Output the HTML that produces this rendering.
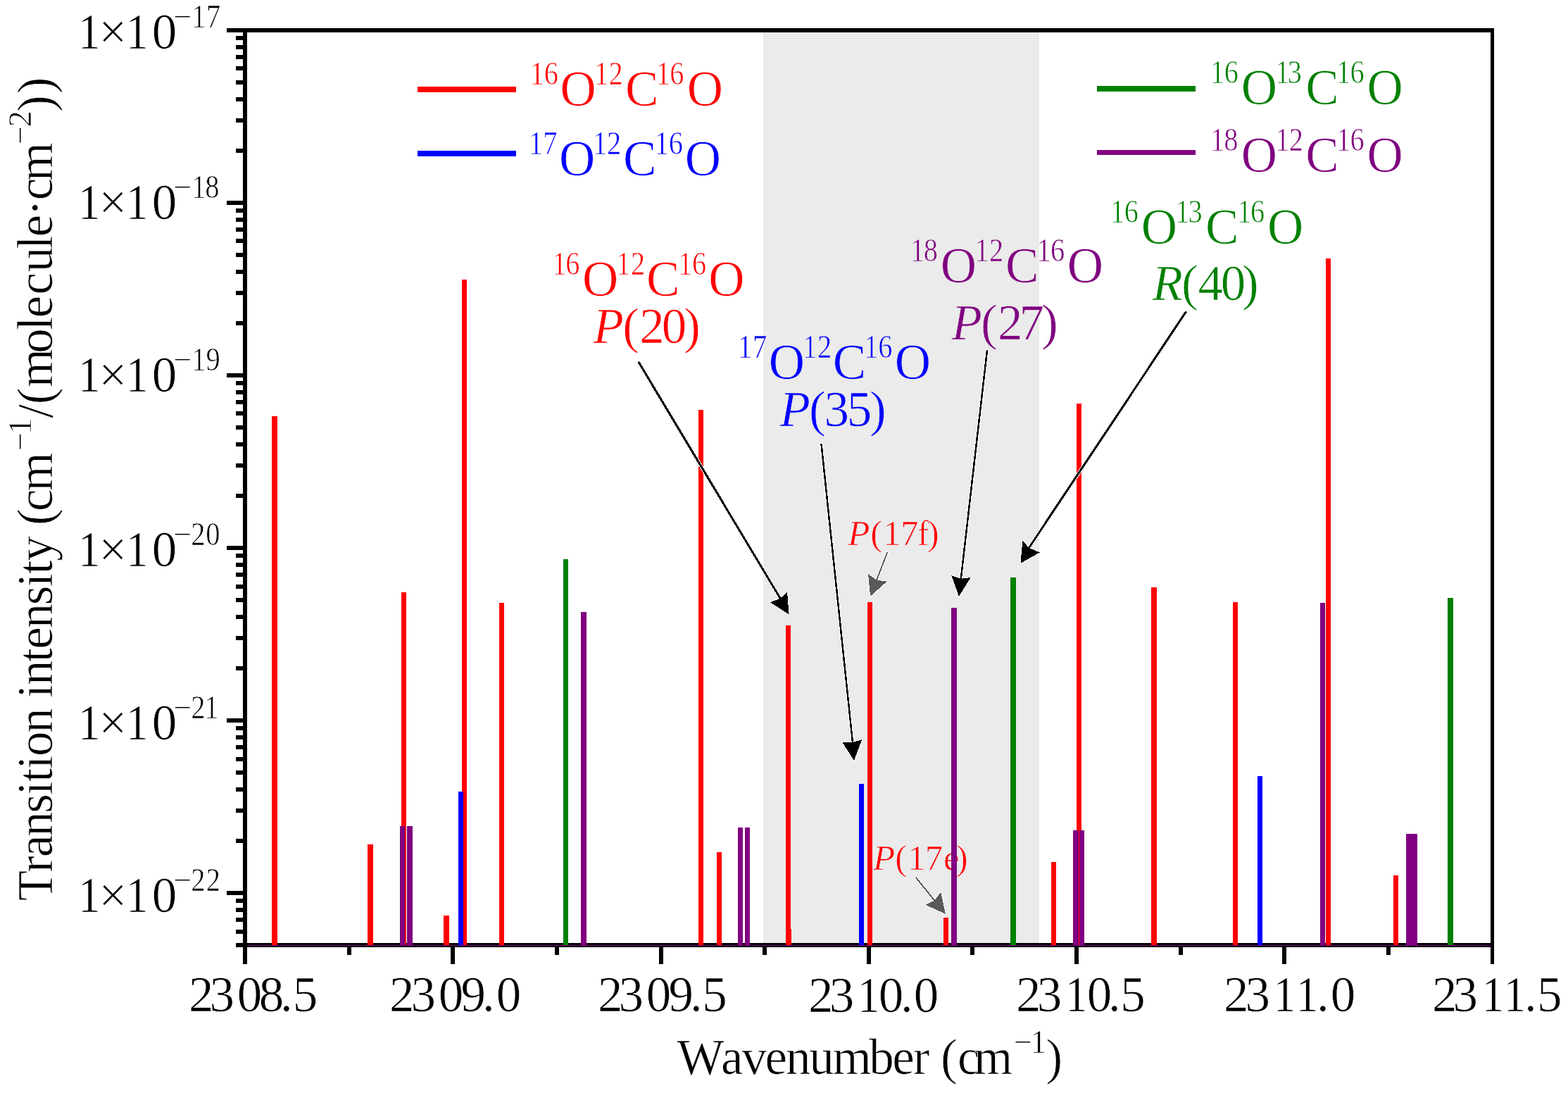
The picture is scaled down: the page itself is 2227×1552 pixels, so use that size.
<!DOCTYPE html>
<html><head><meta charset="utf-8"><style>
html,body{margin:0;padding:0;background:#fff;overflow:hidden}
svg{display:block}
text{font-family:"Liberation Serif","Times New Roman",serif}
</style></head><body>
<svg width="2227" height="1552" viewBox="0 0 2227 1552" shape-rendering="crispEdges">
<rect x="0" y="0" width="2227" height="1552" fill="#FFFFFF"/>
<rect x="1084" y="46" width="392" height="1293" fill="#EBEBEB"/>
<g stroke="#EBEBEB" stroke-width="0.7"><text x="1204.31" y="774.00" font-size="51" fill="#FF0000" style="font-style:italic;">P</text>
<text x="1236.21 1254.34 1278.90 1302.72 1316.86" y="774.00" font-size="51" fill="#FF0000" style="">(17f)</text>
<text x="1239.96" y="1234.80" font-size="51" fill="#FF0000" style="font-style:italic;">P</text>
<text x="1271.21 1289.14 1313.70 1339.92 1357.81" y="1234.80" font-size="51" fill="#FF0000" style="">(17e)</text></g>
<rect x="345" y="1339" width="1777" height="6" fill="#000000"/>
<rect x="351" y="1341.5" width="1766" height="1" fill="#800080"/>
<rect x="386" y="591" width="8" height="751" fill="#FF0000"/>
<rect x="522" y="1199" width="8" height="143" fill="#FF0000"/>
<rect x="570" y="841" width="7" height="501" fill="#FF0000"/>
<rect x="630" y="1300" width="8" height="42" fill="#FF0000"/>
<rect x="656" y="397" width="7" height="945" fill="#FF0000"/>
<rect x="709" y="856" width="7" height="486" fill="#FF0000"/>
<rect x="992" y="582" width="7" height="760" fill="#FF0000"/>
<rect x="1018" y="1210" width="7" height="132" fill="#FF0000"/>
<rect x="1116" y="888" width="7" height="454" fill="#FF0000"/>
<rect x="1117" y="1319" width="7" height="23" fill="#FF0000"/>
<rect x="1232" y="855" width="7" height="487" fill="#FF0000"/>
<rect x="1340" y="1303" width="7" height="39" fill="#FF0000"/>
<rect x="1493" y="1224" width="7" height="118" fill="#FF0000"/>
<rect x="1529" y="573" width="7" height="769" fill="#FF0000"/>
<rect x="1635" y="834" width="8" height="508" fill="#FF0000"/>
<rect x="1751" y="855" width="7" height="487" fill="#FF0000"/>
<rect x="1883" y="367" width="7" height="975" fill="#FF0000"/>
<rect x="1979" y="1243" width="7" height="99" fill="#FF0000"/>
<rect x="800" y="794" width="7" height="548" fill="#008000"/>
<rect x="1435" y="820" width="8" height="522" fill="#008000"/>
<rect x="2056" y="849" width="8" height="493" fill="#008000"/>
<rect x="651" y="1124" width="7" height="218" fill="#0000FF"/>
<rect x="1220" y="1113" width="7" height="229" fill="#0000FF"/>
<rect x="1786" y="1102" width="7" height="240" fill="#0000FF"/>
<rect x="568" y="1173" width="7" height="169" fill="#800080"/>
<rect x="578" y="1173" width="8" height="169" fill="#800080"/>
<rect x="825" y="869" width="8" height="473" fill="#800080"/>
<rect x="1048" y="1175" width="7" height="167" fill="#800080"/>
<rect x="1058" y="1175" width="7" height="167" fill="#800080"/>
<rect x="1351" y="863" width="8" height="479" fill="#800080"/>
<rect x="1524" y="1179" width="8" height="163" fill="#800080"/>
<rect x="1533" y="1179" width="7" height="163" fill="#800080"/>
<rect x="1875" y="856" width="7" height="486" fill="#800080"/>
<rect x="1997" y="1184" width="8" height="158" fill="#800080"/>
<rect x="2005" y="1184" width="8" height="158" fill="#800080"/>
<rect x="345" y="40" width="1777" height="6" fill="#000000"/>
<rect x="345" y="40" width="6" height="1329" fill="#000000"/>
<rect x="2117" y="40" width="5" height="1329" fill="#000000"/>
<rect x="322" y="40.00" width="23" height="6" fill="#000000"/>
<rect x="335" y="211.28" width="10" height="6" fill="#000000"/>
<rect x="335" y="168.13" width="10" height="6" fill="#000000"/>
<rect x="335" y="137.52" width="10" height="6" fill="#000000"/>
<rect x="335" y="113.77" width="10" height="6" fill="#000000"/>
<rect x="335" y="94.36" width="10" height="6" fill="#000000"/>
<rect x="335" y="77.96" width="10" height="6" fill="#000000"/>
<rect x="335" y="63.75" width="10" height="6" fill="#000000"/>
<rect x="335" y="51.21" width="10" height="6" fill="#000000"/>
<rect x="322" y="285.05" width="23" height="6" fill="#000000"/>
<rect x="335" y="456.33" width="10" height="6" fill="#000000"/>
<rect x="335" y="413.18" width="10" height="6" fill="#000000"/>
<rect x="335" y="382.57" width="10" height="6" fill="#000000"/>
<rect x="335" y="358.82" width="10" height="6" fill="#000000"/>
<rect x="335" y="339.41" width="10" height="6" fill="#000000"/>
<rect x="335" y="323.01" width="10" height="6" fill="#000000"/>
<rect x="335" y="308.80" width="10" height="6" fill="#000000"/>
<rect x="335" y="296.26" width="10" height="6" fill="#000000"/>
<rect x="322" y="530.10" width="23" height="6" fill="#000000"/>
<rect x="335" y="701.38" width="10" height="6" fill="#000000"/>
<rect x="335" y="658.23" width="10" height="6" fill="#000000"/>
<rect x="335" y="627.62" width="10" height="6" fill="#000000"/>
<rect x="335" y="603.87" width="10" height="6" fill="#000000"/>
<rect x="335" y="584.46" width="10" height="6" fill="#000000"/>
<rect x="335" y="568.06" width="10" height="6" fill="#000000"/>
<rect x="335" y="553.85" width="10" height="6" fill="#000000"/>
<rect x="335" y="541.31" width="10" height="6" fill="#000000"/>
<rect x="322" y="775.15" width="23" height="6" fill="#000000"/>
<rect x="335" y="946.43" width="10" height="6" fill="#000000"/>
<rect x="335" y="903.28" width="10" height="6" fill="#000000"/>
<rect x="335" y="872.67" width="10" height="6" fill="#000000"/>
<rect x="335" y="848.92" width="10" height="6" fill="#000000"/>
<rect x="335" y="829.51" width="10" height="6" fill="#000000"/>
<rect x="335" y="813.11" width="10" height="6" fill="#000000"/>
<rect x="335" y="798.90" width="10" height="6" fill="#000000"/>
<rect x="335" y="786.36" width="10" height="6" fill="#000000"/>
<rect x="322" y="1020.20" width="23" height="6" fill="#000000"/>
<rect x="335" y="1191.48" width="10" height="6" fill="#000000"/>
<rect x="335" y="1148.33" width="10" height="6" fill="#000000"/>
<rect x="335" y="1117.72" width="10" height="6" fill="#000000"/>
<rect x="335" y="1093.97" width="10" height="6" fill="#000000"/>
<rect x="335" y="1074.56" width="10" height="6" fill="#000000"/>
<rect x="335" y="1058.16" width="10" height="6" fill="#000000"/>
<rect x="335" y="1043.95" width="10" height="6" fill="#000000"/>
<rect x="335" y="1031.41" width="10" height="6" fill="#000000"/>
<rect x="322" y="1265.25" width="23" height="6" fill="#000000"/>
<rect x="335" y="1339.02" width="10" height="6" fill="#000000"/>
<rect x="335" y="1319.61" width="10" height="6" fill="#000000"/>
<rect x="335" y="1303.21" width="10" height="6" fill="#000000"/>
<rect x="335" y="1289.00" width="10" height="6" fill="#000000"/>
<rect x="335" y="1276.46" width="10" height="6" fill="#000000"/>
<rect x="345.00" y="1345" width="6" height="24" fill="#000000"/>
<rect x="640.25" y="1345" width="6" height="24" fill="#000000"/>
<rect x="935.50" y="1345" width="6" height="24" fill="#000000"/>
<rect x="1230.75" y="1345" width="6" height="24" fill="#000000"/>
<rect x="1526.00" y="1345" width="6" height="24" fill="#000000"/>
<rect x="1821.25" y="1345" width="6" height="24" fill="#000000"/>
<rect x="492.62" y="1345" width="6" height="11" fill="#000000"/>
<rect x="787.88" y="1345" width="6" height="11" fill="#000000"/>
<rect x="1083.12" y="1345" width="6" height="11" fill="#000000"/>
<rect x="1378.38" y="1345" width="6" height="11" fill="#000000"/>
<rect x="1673.62" y="1345" width="6" height="11" fill="#000000"/>
<rect x="1968.88" y="1345" width="6" height="11" fill="#000000"/>
<rect x="593" y="123" width="140" height="8" fill="#FF0000"/>
<rect x="593" y="214" width="140" height="8" fill="#0000FF"/>
<rect x="1558" y="122" width="140" height="8" fill="#008000"/>
<rect x="1558" y="213" width="140" height="7" fill="#800080"/>
<g stroke="#FFFFFF" stroke-width="0.7"><text transform="scale(0.9,1)" x="122.93" y="69.00" font-size="71" fill="#000" style="">1</text>
<text x="140.29" y="69.00" font-size="71" fill="#000" style="">×</text>
<text transform="scale(0.9,1)" x="198.65" y="69.00" font-size="71" fill="#000" style="">1</text>
<text x="215.70" y="69.00" font-size="71" fill="#000" style="">0</text>
<text x="246.61" y="39.00" font-size="46" fill="#000" style="">−</text>
<text transform="scale(0.88,1)" x="309.34 332.87" y="39.00" font-size="46" fill="#000" style="">17</text>
<text transform="scale(0.9,1)" x="122.93" y="311.00" font-size="71" fill="#000" style="">1</text>
<text x="140.29" y="311.00" font-size="71" fill="#000" style="">×</text>
<text transform="scale(0.9,1)" x="198.65" y="311.00" font-size="71" fill="#000" style="">1</text>
<text x="215.70" y="311.00" font-size="71" fill="#000" style="">0</text>
<text x="246.61" y="281.00" font-size="46" fill="#000" style="">−</text>
<text transform="scale(0.88,1)" x="309.34 330.91" y="281.00" font-size="46" fill="#000" style="">18</text>
<text transform="scale(0.9,1)" x="122.93" y="555.70" font-size="71" fill="#000" style="">1</text>
<text x="140.29" y="555.70" font-size="71" fill="#000" style="">×</text>
<text transform="scale(0.9,1)" x="198.65" y="555.70" font-size="71" fill="#000" style="">1</text>
<text x="215.70" y="555.70" font-size="71" fill="#000" style="">0</text>
<text x="246.61" y="525.70" font-size="46" fill="#000" style="">−</text>
<text transform="scale(0.88,1)" x="309.34 332.30" y="525.70" font-size="46" fill="#000" style="">19</text>
<text transform="scale(0.9,1)" x="122.93" y="803.70" font-size="71" fill="#000" style="">1</text>
<text x="140.29" y="803.70" font-size="71" fill="#000" style="">×</text>
<text transform="scale(0.9,1)" x="198.65" y="803.70" font-size="71" fill="#000" style="">1</text>
<text x="215.70" y="803.70" font-size="71" fill="#000" style="">0</text>
<text x="246.61" y="773.70" font-size="46" fill="#000" style="">−</text>
<text transform="scale(0.88,1)" x="308.21 332.16" y="773.70" font-size="46" fill="#000" style="">20</text>
<text transform="scale(0.9,1)" x="122.93" y="1049.70" font-size="71" fill="#000" style="">1</text>
<text x="140.29" y="1049.70" font-size="71" fill="#000" style="">×</text>
<text transform="scale(0.9,1)" x="198.65" y="1049.70" font-size="71" fill="#000" style="">1</text>
<text x="215.70" y="1049.70" font-size="71" fill="#000" style="">0</text>
<text x="246.61" y="1019.70" font-size="46" fill="#000" style="">−</text>
<text transform="scale(0.88,1)" x="308.21 329.76" y="1019.70" font-size="46" fill="#000" style="">21</text>
<text transform="scale(0.9,1)" x="122.93" y="1294.60" font-size="71" fill="#000" style="">1</text>
<text x="140.29" y="1294.60" font-size="71" fill="#000" style="">×</text>
<text transform="scale(0.9,1)" x="198.65" y="1294.60" font-size="71" fill="#000" style="">1</text>
<text x="215.70" y="1294.60" font-size="71" fill="#000" style="">0</text>
<text x="246.61" y="1264.60" font-size="46" fill="#000" style="">−</text>
<text transform="scale(0.88,1)" x="308.21 332.61" y="1264.60" font-size="46" fill="#000" style="">22</text>
<text x="268.05" y="1436.00" font-size="71" fill="#000" style="">2</text>
<text x="297.44" y="1436.00" font-size="71" fill="#000" style="">3</text>
<text x="336.75" y="1436.00" font-size="71" fill="#000" style="">0</text>
<text x="367.65" y="1436.00" font-size="71" fill="#000" style="">8</text>
<text x="398.02" y="1436.00" font-size="71" fill="#000" style="">.</text>
<text x="415.87" y="1436.00" font-size="71" fill="#000" style="">5</text>
<text x="553.05" y="1436.00" font-size="71" fill="#000" style="">2</text>
<text x="583.54" y="1436.00" font-size="71" fill="#000" style="">3</text>
<text x="622.65" y="1436.00" font-size="71" fill="#000" style="">0</text>
<text x="654.46" y="1436.00" font-size="71" fill="#000" style="">9</text>
<text x="684.92" y="1436.00" font-size="71" fill="#000" style="">.</text>
<text x="704.85" y="1436.00" font-size="71" fill="#000" style="">0</text>
<text x="848.95" y="1436.00" font-size="71" fill="#000" style="">2</text>
<text x="878.54" y="1436.00" font-size="71" fill="#000" style="">3</text>
<text x="917.65" y="1436.00" font-size="71" fill="#000" style="">0</text>
<text x="949.46" y="1436.00" font-size="71" fill="#000" style="">9</text>
<text x="979.92" y="1436.00" font-size="71" fill="#000" style="">.</text>
<text x="997.17" y="1436.00" font-size="71" fill="#000" style="">5</text>
<text x="1148.05" y="1436.80" font-size="71" fill="#000" style="">2</text>
<text x="1177.64" y="1436.80" font-size="71" fill="#000" style="">3</text>
<text transform="scale(0.9,1)" x="1353.04" y="1436.80" font-size="71" fill="#000" style="">1</text>
<text x="1247.75" y="1436.80" font-size="71" fill="#000" style="">0</text>
<text x="1279.12" y="1436.80" font-size="71" fill="#000" style="">.</text>
<text x="1297.65" y="1436.80" font-size="71" fill="#000" style="">0</text>
<text x="1443.05" y="1436.00" font-size="71" fill="#000" style="">2</text>
<text x="1472.64" y="1436.00" font-size="71" fill="#000" style="">3</text>
<text transform="scale(0.9,1)" x="1680.82" y="1436.00" font-size="71" fill="#000" style="">1</text>
<text x="1543.65" y="1436.00" font-size="71" fill="#000" style="">0</text>
<text x="1574.12" y="1436.00" font-size="71" fill="#000" style="">.</text>
<text x="1591.27" y="1436.00" font-size="71" fill="#000" style="">5</text>
<text x="1738.05" y="1436.00" font-size="71" fill="#000" style="">2</text>
<text x="1768.54" y="1436.00" font-size="71" fill="#000" style="">3</text>
<text transform="scale(0.9,1)" x="2009.48" y="1436.00" font-size="71" fill="#000" style="">1</text>
<text transform="scale(0.9,1)" x="2044.93" y="1436.00" font-size="71" fill="#000" style="">1</text>
<text x="1869.92" y="1436.00" font-size="71" fill="#000" style="">.</text>
<text x="1889.85" y="1436.00" font-size="71" fill="#000" style="">0</text>
<text x="2033.95" y="1436.00" font-size="71" fill="#000" style="">2</text>
<text x="2063.54" y="1436.00" font-size="71" fill="#000" style="">3</text>
<text transform="scale(0.9,1)" x="2338.37" y="1436.00" font-size="71" fill="#000" style="">1</text>
<text transform="scale(0.9,1)" x="2372.71" y="1436.00" font-size="71" fill="#000" style="">1</text>
<text x="2164.93" y="1436.00" font-size="71" fill="#000" style="">.</text>
<text x="2183.07" y="1436.00" font-size="71" fill="#000" style="">5</text>
<text transform="scale(0.88,1)" x="855.36 878.03" y="120.30" font-size="46" fill="#FF0000" style="">16</text>
<text x="795.59" y="150.30" font-size="71" fill="#FF0000" style="">O</text>
<text transform="scale(0.88,1)" x="959.11 982.49" y="120.30" font-size="46" fill="#FF0000" style="">12</text>
<text x="887.99" y="150.30" font-size="71" fill="#FF0000" style="">C</text>
<text transform="scale(0.88,1)" x="1058.88 1081.10" y="120.30" font-size="46" fill="#FF0000" style="">16</text>
<text x="975.79" y="150.30" font-size="71" fill="#FF0000" style="">O</text>
<text transform="scale(0.88,1)" x="853.54 876.39" y="219.00" font-size="46" fill="#0000FF" style="">17</text>
<text x="793.99" y="249.00" font-size="71" fill="#0000FF" style="">O</text>
<text transform="scale(0.88,1)" x="956.84 979.42" y="219.00" font-size="46" fill="#0000FF" style="">12</text>
<text x="884.89" y="249.00" font-size="71" fill="#0000FF" style="">C</text>
<text transform="scale(0.88,1)" x="1056.61 1079.28" y="219.00" font-size="46" fill="#0000FF" style="">16</text>
<text x="972.69" y="249.00" font-size="71" fill="#0000FF" style="">O</text>
<text transform="scale(0.88,1)" x="1953.31 1975.98" y="117.80" font-size="46" fill="#008000" style="">16</text>
<text x="1762.69" y="147.80" font-size="71" fill="#008000" style="">O</text>
<text transform="scale(0.88,1)" x="2058.31 2078.12" y="117.80" font-size="46" fill="#008000" style="">13</text>
<text x="1854.19" y="147.80" font-size="71" fill="#008000" style="">C</text>
<text transform="scale(0.88,1)" x="2156.84 2179.05" y="117.80" font-size="46" fill="#008000" style="">16</text>
<text x="1941.59" y="147.80" font-size="71" fill="#008000" style="">O</text>
<text transform="scale(0.88,1)" x="1953.31 1975.23" y="213.80" font-size="46" fill="#800080" style="">18</text>
<text x="1762.69" y="243.80" font-size="71" fill="#800080" style="">O</text>
<text transform="scale(0.88,1)" x="2058.31 2080.45" y="213.80" font-size="46" fill="#800080" style="">12</text>
<text x="1854.19" y="243.80" font-size="71" fill="#800080" style="">C</text>
<text transform="scale(0.88,1)" x="2156.84 2179.05" y="213.80" font-size="46" fill="#800080" style="">16</text>
<text x="1941.59" y="243.80" font-size="71" fill="#800080" style="">O</text>
<text transform="scale(0.88,1)" x="891.38 912.80" y="390.20" font-size="46" fill="#FF0000" style="">16</text>
<text x="827.09" y="420.20" font-size="71" fill="#FF0000" style="">O</text>
<text transform="scale(0.88,1)" x="994.68 1018.06" y="390.20" font-size="46" fill="#FF0000" style="">12</text>
<text x="917.99" y="420.20" font-size="71" fill="#FF0000" style="">C</text>
<text transform="scale(0.88,1)" x="1094.68 1117.01" y="390.20" font-size="46" fill="#FF0000" style="">16</text>
<text x="1006.19" y="420.20" font-size="71" fill="#FF0000" style="">O</text>
<text transform="scale(0.88,1)" x="1792.18 1814.62" y="316.10" font-size="46" fill="#008000" style="">16</text>
<text x="1620.69" y="346.10" font-size="71" fill="#008000" style="">O</text>
<text transform="scale(0.88,1)" x="1896.95 1917.66" y="316.10" font-size="46" fill="#008000" style="">13</text>
<text x="1711.99" y="346.10" font-size="71" fill="#008000" style="">C</text>
<text transform="scale(0.88,1)" x="1996.95 2018.26" y="316.10" font-size="46" fill="#008000" style="">16</text>
<text x="1799.89" y="346.10" font-size="71" fill="#008000" style="">O</text>
<text x="842.56" y="487.00" font-size="71" fill="#FF0000" style="font-style:italic;">P</text>
<text x="884.21 908.25 939.70 971.34" y="487.00" font-size="71" fill="#FF0000" style="">(20)</text>
<text x="1636.40" y="426.30" font-size="71" fill="#008000" style="font-style:italic;">R</text>
<text x="1678.11 1701.61 1733.65 1764.09" y="426.30" font-size="71" fill="#008000" style="">(40)</text>
<text transform="rotate(-90)" x="-1279.28 -1238.95 -1217.03 -1187.66 -1154.73 -1128.92 -1110.52 -1092.23 -1073.96 -1040.86 -1007.73 -991.32 -972.98 -939.90 -921.69 -892.30 -859.37 -833.56 -815.16 -796.82 -762.91 -746.12 -725.90 -697.42" y="73.80" font-size="71" fill="#000" style="">Transition intensity (cm</text>
<text transform="rotate(-90)" x="-640.09 -616.54" y="43.80" font-size="46" fill="#000" style="">−1</text>
<text transform="rotate(-90)" x="-593.80 -574.32 -550.19 -501.80 -469.15 -451.17 -418.40 -386.24 -353.99 -336.17 -306.83 -284.30 -257.32" y="73.80" font-size="71" fill="#000" style="">/(molecule·cm</text>
<text transform="rotate(-90)" x="-205.09 -180.36" y="43.80" font-size="46" fill="#000" style="">−2</text>
<text transform="rotate(-90)" x="-159.09 -133.32" y="73.80" font-size="71" fill="#000" style="">))</text>
<text x="961.43 1023.93 1053.55 1086.56 1116.10 1149.33 1182.49 1234.22 1267.23 1296.78 1319.24 1335.88 1360.10 1382.98" y="1525.00" font-size="71" fill="#000" style="">Wavenumber (cm</text>
<text x="1439.91 1463.56" y="1495.00" font-size="46" fill="#000" style="">−1</text>
<text x="1485.51" y="1525.00" font-size="71" fill="#000" style="">)</text></g>
<g stroke="#EBEBEB" stroke-width="0.7"><text x="1107.56" y="604.80" font-size="71" fill="#0000FF" style="font-style:italic;">P</text>
<text x="1149.11 1170.44 1202.87 1234.99" y="604.80" font-size="71" fill="#0000FF" style="">(35)</text></g>
<g stroke="#EBEBEB" stroke-width="0.7"><text transform="scale(0.88,1)" x="1191.04 1214.92" y="508.10" font-size="46" fill="#0000FF" style="">17</text>
<text x="1091.79" y="538.10" font-size="71" fill="#0000FF" style="">O</text>
<text transform="scale(0.88,1)" x="1295.81 1319.20" y="508.10" font-size="46" fill="#0000FF" style="">12</text>
<text x="1182.69" y="538.10" font-size="71" fill="#0000FF" style="">C</text>
<text transform="scale(0.88,1)" x="1394.56 1417.46" y="508.10" font-size="46" fill="#0000FF" style="">16</text>
<text x="1270.69" y="538.10" font-size="71" fill="#0000FF" style="">O</text>
<text transform="scale(0.88,1)" x="1469.34 1490.68" y="370.80" font-size="46" fill="#800080" style="">18</text>
<text x="1335.69" y="400.80" font-size="71" fill="#800080" style="">O</text>
<text transform="scale(0.88,1)" x="1573.20 1596.70" y="370.80" font-size="46" fill="#800080" style="">12</text>
<text x="1427.99" y="400.80" font-size="71" fill="#800080" style="">C</text>
<text transform="scale(0.88,1)" x="1673.31 1695.42" y="370.80" font-size="46" fill="#800080" style="">16</text>
<text x="1515.79" y="400.80" font-size="71" fill="#800080" style="">O</text>
<text x="1351.41" y="481.70" font-size="71" fill="#800080" style="font-style:italic;">P</text>
<text x="1393.11 1417.00 1447.38 1479.09" y="481.70" font-size="71" fill="#800080" style="">(27)</text></g>
<g shape-rendering="crispEdges"><line x1="906.8" y1="513.7" x2="1108.2" y2="849.7" stroke="#fff" stroke-width="5" stroke-linecap="round"/><polygon points="1120.6,872.5 1118.1,840.8 1108.2,849.7 1093.9,855.3" fill="#fff" stroke="#fff" stroke-width="2" stroke-linejoin="round"/><line x1="906.8" y1="513.7" x2="1108.2" y2="849.7" stroke="#000" stroke-width="3"/><polygon points="1120.6,872.5 1118.1,840.8 1108.2,849.7 1093.9,855.3" fill="#000"/></g>
<g shape-rendering="crispEdges"><line x1="1166.5" y1="630.1" x2="1211" y2="1054.2" stroke="#fff" stroke-width="4.5" stroke-linecap="round"/><polygon points="1213,1080 1196,1053.6 1211,1054.2 1224.3,1050.1" fill="#fff" stroke="#fff" stroke-width="2" stroke-linejoin="round"/><line x1="1166.5" y1="630.1" x2="1211" y2="1054.2" stroke="#000" stroke-width="2.5"/><polygon points="1213,1080 1196,1053.6 1211,1054.2 1224.3,1050.1" fill="#000"/></g>
<g shape-rendering="crispEdges"><line x1="1402" y1="497.4" x2="1364.8" y2="821.8" stroke="#fff" stroke-width="4.5" stroke-linecap="round"/><polygon points="1361.9,847 1351.3,817.2 1364.8,821.8 1378.7,820.1" fill="#fff" stroke="#fff" stroke-width="2" stroke-linejoin="round"/><line x1="1402" y1="497.4" x2="1364.8" y2="821.8" stroke="#000" stroke-width="2.5"/><polygon points="1361.9,847 1351.3,817.2 1364.8,821.8 1378.7,820.1" fill="#000"/></g>
<g shape-rendering="crispEdges"><line x1="1684.6" y1="442.4" x2="1461.5" y2="777.8" stroke="#fff" stroke-width="5" stroke-linecap="round"/><polygon points="1449.5,799.8 1452.3,767.9 1461.5,777.8 1476.8,784.4" fill="#fff" stroke="#fff" stroke-width="2" stroke-linejoin="round"/><line x1="1684.6" y1="442.4" x2="1461.5" y2="777.8" stroke="#000" stroke-width="3"/><polygon points="1449.5,799.8 1452.3,767.9 1461.5,777.8 1476.8,784.4" fill="#000"/></g>
<g shape-rendering="crispEdges"><line x1="1260.3" y1="784.1" x2="1245" y2="823.8" stroke="#fff" stroke-width="4" stroke-linecap="round"/><polygon points="1236,846.8 1233.1,815 1245,823.8 1259.9,825.6" fill="#fff" stroke="#fff" stroke-width="2" stroke-linejoin="round"/><line x1="1260.3" y1="784.1" x2="1245" y2="823.8" stroke="#595959" stroke-width="2"/><polygon points="1236,846.8 1233.1,815 1245,823.8 1259.9,825.6" fill="#595959"/></g>
<g shape-rendering="crispEdges"><line x1="1300.6" y1="1245.7" x2="1327.4" y2="1278.7" stroke="#fff" stroke-width="4" stroke-linecap="round"/><polygon points="1342.9,1297.7 1336.2,1266.8 1327.4,1278.7 1314,1284.8" fill="#fff" stroke="#fff" stroke-width="2" stroke-linejoin="round"/><line x1="1300.6" y1="1245.7" x2="1327.4" y2="1278.7" stroke="#595959" stroke-width="2"/><polygon points="1342.9,1297.7 1336.2,1266.8 1327.4,1278.7 1314,1284.8" fill="#595959"/></g>
</svg>
</body></html>
